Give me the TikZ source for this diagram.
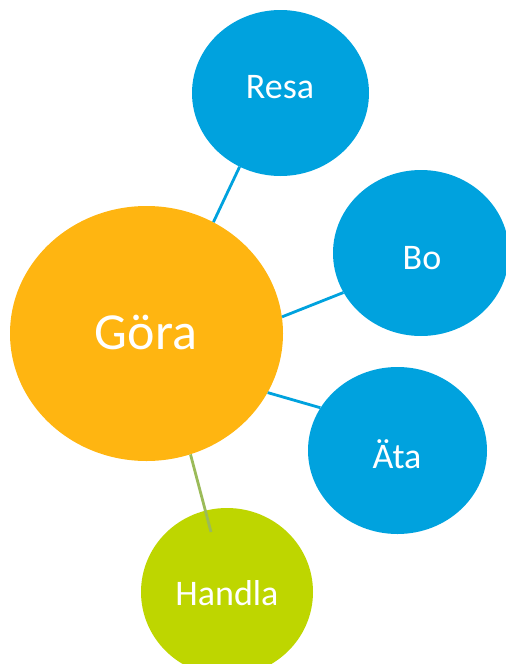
\documentclass[tikz,border=0pt]{standalone}
\usepackage{fontspec}
\setmainfont{Carlito}
\usetikzlibrary{shapes.geometric}
\definecolor{cOrange}{HTML}{FFB511}
\definecolor{cBlue}{HTML}{00A2DE}
\definecolor{cGreen}{HTML}{BED600}
\definecolor{cOlive}{HTML}{9BBB59}
\tikzset{
  bubble/.style={ellipse, inner sep=0pt, draw=none},
  txt/.style={text=white, inner sep=0pt, anchor=base},
  bigtxt/.style={txt, font=\fontsize{52}{60}\selectfont},
  smalltxt/.style={txt, font=\fontsize{36}{42}\selectfont},
  blueline/.style={draw=cBlue, line width=2.8pt},
  greenline/.style={draw=cOlive, line width=2.8pt}
}
\begin{document}
\begin{tikzpicture}[x=1pt, y=-1pt]
\useasboundingbox (0,0) rectangle (506,664);
\clip (0,0) rectangle (506,664);
% bubbles
\node[bubble, fill=cOrange, minimum width=273pt, minimum height=255pt] (gora) at (146.5,333.5) {};
\node[bubble, fill=cBlue, minimum width=177pt, minimum height=166pt] (resa) at (280.5,93) {};
\node[bubble, fill=cBlue, minimum width=176pt, minimum height=166pt] (bo) at (421,253) {};
\node[bubble, fill=cBlue, minimum width=179pt, minimum height=167pt] (ata) at (397.5,450.5) {};
\node[bubble, fill=cGreen, minimum width=172pt, minimum height=168pt] (handla) at (227,592) {};
% texts
\node[bigtxt] (goraT) at (146,349) {Göra};
\node[smalltxt] (resaT) at (280,98) {Resa};
\node[smalltxt] (boT) at (422,269) {Bo};
\node[smalltxt] (ataT) at (397,468) {Äta};
\node[smalltxt] (handlaT) at (227,605) {Handla};
% connectors
\coordinate (handlaEnd) at (211,532);
\draw[blueline] (gora.59.7) -- (resa.241.3);
\draw[blueline] (gora.7.4) -- (bo.207.2);
\draw[blueline] (gora.-26.7) -- (ata.151.5);
\draw[greenline] (gora.-70.3) -- (handlaEnd);
\end{tikzpicture}
\end{document}
